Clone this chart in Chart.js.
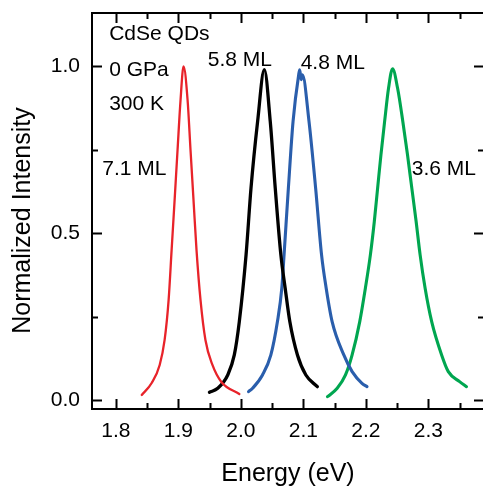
<!DOCTYPE html>
<html>
<head>
<meta charset="utf-8">
<script src="https://cdn.jsdelivr.net/npm/chart.js@4.4.1/dist/chart.umd.min.js"></script>
<style>
  html, body { margin: 0; padding: 0; background: #fff; overflow: hidden; }
  #wrap { width: 490px; height: 489px; }
</style>
</head>
<body>
<div id="wrap"><canvas id="c" width="490" height="489"></canvas></div>
<script>
// Normalized PL spectra of CdSe quantum dots (0 GPa, 300 K)
const energy71 = [1.8414, 1.8573, 1.8701, 1.878, 1.8844, 1.8892, 1.894, 1.8987, 1.9035, 1.9083,
                  1.9147, 1.9194, 1.9242, 1.929, 1.9354, 1.9433, 1.9545, 1.9688, 1.9975];
const intensity71 = [0.015, 0.051, 0.105, 0.18, 0.30, 0.45, 0.60, 0.75, 0.90, 1.0,
                     0.90, 0.75, 0.60, 0.45, 0.30, 0.18, 0.105, 0.054, 0.018];

const energy58 = [1.9497, 1.963, 1.979, 1.9895, 1.9975, 2.0083, 2.0162, 2.0268, 2.0375,
                  2.047, 2.055, 2.064, 2.0709, 2.0783, 2.0905, 2.104, 2.1224];
const intensity58 = [0.023, 0.035, 0.075, 0.135, 0.235, 0.435, 0.635, 0.835, 0.99,
                     0.835, 0.635, 0.435, 0.335, 0.235, 0.135, 0.075, 0.04];

const energy48 = [2.0123, 2.0187, 2.0346, 2.048, 2.0585, 2.0655, 2.0691, 2.076, 2.0835, 2.0925, 2.0941, 2.0965, 2.0985,
                  2.109, 2.1196, 2.1291, 2.1365, 2.146, 2.1647, 2.178, 2.1938, 2.2018];
const intensity48 = [0.025, 0.035, 0.075, 0.135, 0.235, 0.335, 0.435, 0.635, 0.835, 0.975, 0.99, 0.96, 0.975,
                     0.835, 0.635, 0.435, 0.335, 0.235, 0.135, 0.085, 0.05, 0.04];

const energy36 = [2.1386, 2.1541, 2.1674, 2.178, 2.1902, 2.1992, 2.2072, 2.2135, 2.2188, 2.2241, 2.23, 2.2363, 2.2427,
                  2.2507, 2.2591, 2.2666, 2.2735, 2.2804, 2.2868, 2.2948, 2.3053, 2.3212, 2.3319, 2.35, 2.361];
const intensity36 = [0.01, 0.035, 0.075, 0.135, 0.235, 0.335, 0.435, 0.535, 0.635, 0.735, 0.835, 0.935, 0.993,
                     0.935, 0.835, 0.735, 0.635, 0.535, 0.435, 0.335, 0.235, 0.135, 0.085, 0.055, 0.04];

const xTickValues = [1.8, 1.9, 2.0, 2.1, 2.2, 2.3];
const xMinorValues = [1.75, 1.85, 1.95, 2.05, 2.15, 2.25, 2.35];
const yTickValues = [0.0, 0.5, 1.0];
const yMinorValues = [0.25, 0.75];

// text annotations, anchored in data coordinates (energy, intensity) at left baseline
const noteText = ['CdSe QDs', '0 GPa', '300 K', '5.8 ML', '4.8 ML', '7.1 ML', '3.6 ML'];
const noteEnergy = [1.7893, 1.7893, 1.7893, 1.947, 2.0957, 1.7782, 2.2734];
const noteIntensity = [1.078, 0.972, 0.870, 1.0, 0.992, 0.675, 0.675];

const yTitle = 'Normalized Intensity';
const FONT = '"Liberation Sans", Arial, Helvetica, sans-serif';

function pts(xs, ys) { return xs.map((x, i) => ({ x: x, y: ys[i] })); }

const series = [
  { label: '7.1 ML', data: pts(energy71, intensity71), borderColor: '#e8232a', borderWidth: 2.3 },
  { label: '5.8 ML', data: pts(energy58, intensity58), borderColor: '#000000', borderWidth: 3.3 },
  { label: '4.8 ML', data: pts(energy48, intensity48), borderColor: '#2a5eac', borderWidth: 3.1 },
  { label: '3.6 ML', data: pts(energy36, intensity36), borderColor: '#00a650', borderWidth: 3.1 }
].map(d => Object.assign(d, {
  showLine: true, fill: false, pointRadius: 0, cubicInterpolationMode: 'monotone',
  borderCapStyle: 'round', borderJoinStyle: 'round'
}));

// frame with inward ticks on all four sides, the y title and the annotation text
const framePlugin = {
  id: 'frame',
  afterDatasetsDraw(chart) {
    const { ctx, chartArea: a, scales: { x, y } } = chart;
    ctx.save();
    ctx.strokeStyle = '#000';
    ctx.lineWidth = 2;
    ctx.strokeRect(a.left, a.top, a.right - a.left, a.bottom - a.top);
    ctx.beginPath();
    const major = 10, minor = 6;
    xTickValues.concat(xMinorValues).forEach(v => {
      const len = xTickValues.includes(v) ? major : minor;
      const px = Math.round(x.getPixelForValue(v)) + 0.5;
      if (px < a.left || px > a.right) return;
      ctx.moveTo(px, a.bottom); ctx.lineTo(px, a.bottom - len);
      ctx.moveTo(px, a.top); ctx.lineTo(px, a.top + len);
    });
    yTickValues.concat(yMinorValues).forEach(v => {
      const len = yTickValues.includes(v) ? major : minor;
      const py = Math.round(y.getPixelForValue(v)) + 0.5;
      ctx.moveTo(a.left, py); ctx.lineTo(a.left + len, py);
      ctx.moveTo(a.right, py); ctx.lineTo(a.right - len, py);
    });
    ctx.stroke();

    ctx.fillStyle = '#000';
    ctx.font = '21px ' + FONT;
    ctx.textAlign = 'left';
    ctx.textBaseline = 'alphabetic';
    noteText.forEach((t, i) => {
      ctx.fillText(t, x.getPixelForValue(noteEnergy[i]), y.getPixelForValue(noteIntensity[i]));
    });

    ctx.font = '25px ' + FONT;
    ctx.textAlign = 'center';
    ctx.textBaseline = 'middle';
    ctx.translate(23, y.getPixelForValue(0.538));
    ctx.rotate(-Math.PI / 2);
    ctx.fillText(yTitle, 0, 0);
    ctx.restore();
  }
};

new Chart(document.getElementById('c'), {
  type: 'scatter',
  data: { datasets: series },
  options: {
    responsive: false,
    animation: false,
    devicePixelRatio: 1,
    layout: { padding: { left: 0, top: 13, right: 6, bottom: 0 } },
    plugins: { legend: { display: false }, tooltip: { enabled: false } },
    scales: {
      x: {
        type: 'linear', min: 1.7618, max: 2.389,
        afterBuildTicks: s => { s.ticks = xTickValues.map(v => ({ value: v })); },
        afterFit: s => { s.height = 80; s.paddingLeft = 0; s.paddingRight = 0; },
        grid: { display: false, drawTicks: false },
        border: { display: false },
        ticks: { color: '#000', padding: 10, font: { family: FONT, size: 21 }, callback: v => v.toFixed(1), maxRotation: 0 },
        title: { display: true, text: 'Energy (eV)', color: '#000', font: { family: FONT, size: 25 }, padding: { top: 0, bottom: 0 } }
      },
      y: {
        type: 'linear', min: -0.027, max: 1.16,
        afterBuildTicks: s => { s.ticks = yTickValues.map(v => ({ value: v })); },
        afterFit: s => { s.width = 92; s.paddingTop = 0; s.paddingBottom = 0; },
        grid: { display: false, drawTicks: false },
        border: { display: false },
        ticks: { color: '#000', padding: 12, font: { family: FONT, size: 21 }, callback: v => v.toFixed(1) },
        title: { display: false }
      }
    }
  },
  plugins: [framePlugin]
});
</script>
</body>
</html>
